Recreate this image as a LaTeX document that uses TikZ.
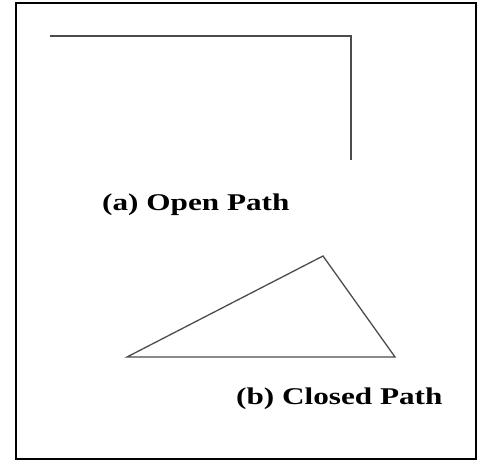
\documentclass[tikz,border=0pt]{standalone}
\usepackage{fontspec}
\setmainfont{Liberation Serif}
\tikzset{
  pathline/.style={draw=black!70, line width=1.3pt, line join=miter},
  caption/.style={inner sep=0pt, anchor=base west, font=\fontsize{24}{28}\selectfont\bfseries},
}
\newcommand{\widetext}[1]{\scalebox{1.3}[1]{#1}}
\begin{document}
\begin{tikzpicture}[x=1pt,y=1pt]
\useasboundingbox (0,0) rectangle (481,462);
\draw[line width=2pt] (16,459) rectangle (476,3);
% open path
\coordinate (o1) at (50,426);
\coordinate (o2) at (351,426);
\coordinate (o3) at (351,302);
\draw[pathline] (o1) -- (o2) -- (o3);
\node[caption] (capa) at (102,251) {\widetext{(a) Open Path}};
% closed path
\coordinate (t1) at (127,105);
\coordinate (t2) at (323,206);
\coordinate (t3) at (395,105);
\draw[pathline] (t1) -- (t2) -- (t3) -- cycle;
\node[caption] (capb) at (236,57) {\widetext{(b) Closed Path}};
\end{tikzpicture}
\end{document}
